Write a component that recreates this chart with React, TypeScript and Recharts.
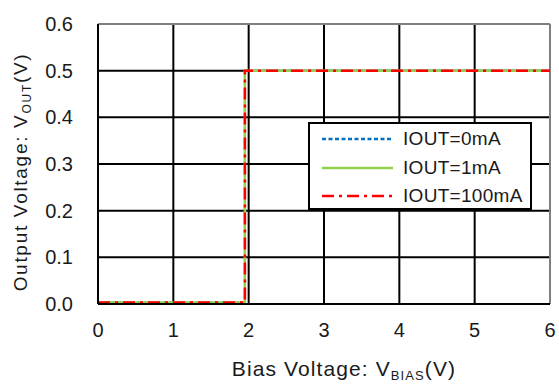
import { LineChart, Line, XAxis, YAxis, CartesianGrid, ReferenceLine } from 'recharts';

const xTicks = [0, 1, 2, 3, 4, 5, 6];
const yTicks = [0, 0.1, 0.2, 0.3, 0.4, 0.5, 0.6];

const iout0 = [
  { x: 0, y: 0.003 },
  { x: 1.95, y: 0.003 },
  { x: 1.95, y: 0.5 },
  { x: 6, y: 0.5 },
];
const iout1 = [
  { x: 0, y: 0.003 },
  { x: 1.95, y: 0.003 },
  { x: 1.95, y: 0.5 },
  { x: 6, y: 0.5 },
];
const iout100 = [
  { x: 0, y: 0.003 },
  { x: 1.95, y: 0.003 },
  { x: 1.95, y: 0.5 },
  { x: 6, y: 0.5 },
];

const series = [
  { name: 'IOUT=0mA', data: iout0, color: '#0070C0', dash: '4 2.5', width: 2 },
  { name: 'IOUT=1mA', data: iout1, color: '#92D050', dash: undefined, width: 2.5 },
  { name: 'IOUT=100mA', data: iout100, color: '#FF0000', dash: '12 5 3 5', width: 2.5 },
];

const font = 'Arial, "Liberation Sans", sans-serif';

function XLabel({ viewBox }: any) {
  const cx = viewBox.x + viewBox.width / 2 + 20;
  return (
    <text x={cx} y={376} textAnchor="middle" fontSize={21} letterSpacing={1.1} fill="#1a1a1a" fontFamily={font}>
      Bias Voltage: V<tspan fontSize={13} dy={4}>BIAS</tspan>
      <tspan dy={-4}>(V)</tspan>
    </text>
  );
}

function YLabel({ viewBox }: any) {
  const cy = viewBox.y + viewBox.height / 2 + 8;
  return (
    <text
      x={27}
      y={cy}
      transform={`rotate(-90 27 ${cy})`}
      textAnchor="middle"
      fontSize={19}
      letterSpacing={1.7}
      fill="#1a1a1a"
      fontFamily={font}
    >
      Output Voltage: V<tspan fontSize={12} dy={4}>OUT</tspan>
      <tspan dy={-4}>(V)</tspan>
    </text>
  );
}

function LegendBox() {
  return (
    <div
      style={{
        position: 'absolute',
        left: 308,
        top: 122,
        border: '2px solid #000',
        background: '#fff',
        width: 224,
        height: 88,
        boxSizing: 'border-box',
        fontFamily: font,
        fontSize: 19,
        letterSpacing: 0.3,
        color: '#1a1a1a',
        padding: '1px 0 0 12px',
      }}
    >
      {series.map((s) => (
        <div key={s.name} style={{ display: 'flex', alignItems: 'center', height: 28.5 }}>
          <svg width={72} height={10} style={{ display: 'block' }}>
            <line x1={0} y1={5} x2={71} y2={5} stroke={s.color} strokeWidth={2.5} strokeDasharray={s.dash} />
          </svg>
          <span style={{ marginLeft: 9, lineHeight: '20px' }}>{s.name}</span>
        </div>
      ))}
    </div>
  );
}

export default function App() {
  return (
    <div style={{ position: 'absolute', left: 0, top: 0, width: 559, height: 385, background: '#fff' }}>
      <LineChart width={559} height={385} margin={{ top: 24, right: 9, bottom: 51, left: 38 }}>
        <CartesianGrid stroke="#000" strokeWidth={2} vertical horizontal />
        <XAxis
          type="number"
          dataKey="x"
          domain={[0, 6]}
          ticks={xTicks}
          height={30}
          tickSize={0}
          tickMargin={19}
          axisLine={{ stroke: '#000', strokeWidth: 2 }}
          tick={{ fill: '#1a1a1a', fontSize: 20, fontFamily: font }}
          label={<XLabel />}
          allowDuplicatedCategory={false}
        />
        <YAxis
          type="number"
          dataKey="y"
          domain={[0, 0.6]}
          ticks={yTicks}
          width={60}
          tickSize={0}
          tickMargin={25}
          axisLine={{ stroke: '#000', strokeWidth: 2 }}
          tick={{ fill: '#1a1a1a', fontSize: 20, fontFamily: font }}
          tickFormatter={(v: number) => v.toFixed(1)}
          label={<YLabel />}
        />
        <ReferenceLine y={0.6} stroke="#808080" strokeWidth={2} />
        <ReferenceLine x={6} stroke="#808080" strokeWidth={2} />
        {series.map((s) => (
          <Line
            key={s.name}
            data={s.data}
            dataKey="y"
            name={s.name}
            type="linear"
            stroke={s.color}
            strokeWidth={s.width}
            strokeDasharray={s.dash}
            dot={false}
            activeDot={false}
            isAnimationActive={false}
          />
        ))}
      </LineChart>
      <LegendBox />
    </div>
  );
}
